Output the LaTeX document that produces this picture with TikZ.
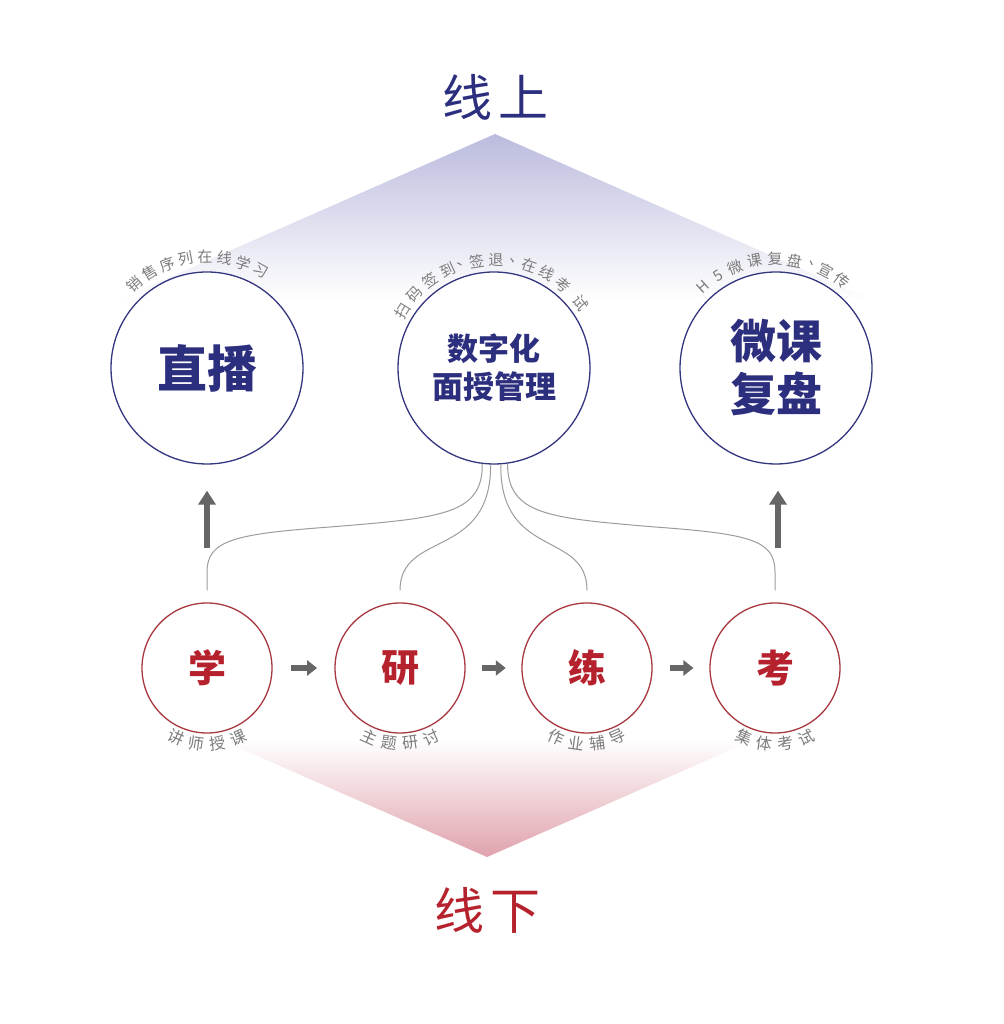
\documentclass[tikz,border=0pt]{standalone}
\usepackage{fontspec}
\newfontfamily\cjk{Noto Sans CJK SC}
\usetikzlibrary{arrows.meta,calc}
\definecolor{navy}{HTML}{2C2E7E}
\definecolor{ringnavy}{HTML}{34367F}
\definecolor{crimson}{HTML}{B5222D}
\definecolor{ringred}{HTML}{A8383F}
\definecolor{lav}{HTML}{BBBBDE}
\definecolor{pinkc}{HTML}{E0A2AC}
\definecolor{labgray}{HTML}{7C7C7C}
\definecolor{arrgray}{HTML}{666666}
\definecolor{linegray}{HTML}{9C9C9C}
\newcommand{\dun}{\smash{\makebox[6pt][l]{、}}}
\begin{document}
\begin{tikzpicture}[x=1pt,y=1pt,
  topring/.style={circle, draw=ringnavy, line width=1.3pt, fill=white, minimum size=192pt, inner sep=0pt, text=navy, align=center},
  botring/.style={circle, draw=ringred, line width=1.3pt, fill=white, minimum size=130pt, inner sep=0pt, text=crimson, font=\cjk\bfseries\fontsize{38}{38}\selectfont},
  arclab/.style={text=labgray, font=\cjk\fontsize{15}{15}\selectfont, inner sep=0pt},
  botlab/.style={text=labgray, font=\cjk\fontsize{16}{16}\selectfont, inner sep=0pt},
  flowarrow/.style={draw=arrgray, line width=6pt, -{Triangle[length=10pt,width=15pt]}},
  uparrow/.style={draw=arrgray, line width=6pt, -{Triangle[length=14pt,width=17pt]}},
  conn/.style={draw=linegray, line width=1pt},
  bigtitle/.style={font=\cjk\fontsize{50}{50}\selectfont}
]
\useasboundingbox (0,0) rectangle (1003,1024);
\fill[white] (0,0) rectangle (1003,1024);

% gradient triangles
\shade[top color=lav, bottom color=white] (495,890) -- (872,724) -- (118,724) -- cycle;
\shade[top color=white, bottom color=pinkc] (487,167) -- (221,284) -- (753,284) -- cycle;

% titles
\node[bigtitle, text=navy] (online) at (495,927) {线\hspace{6pt}上};
\node[bigtitle, text=crimson] (offline) at (487,114) {线\hspace{6pt}下};

% top circles
\node[topring, font=\cjk\bfseries\fontsize{50}{50}\selectfont] (live) at (207,656) {直播};
\node[topring, font=\cjk\bfseries\fontsize{31}{38}\selectfont] (dig) at (494,656) {数字化\\面授管理};
\node[topring, font=\cjk\bfseries\fontsize{46}{53}\selectfont] (micro) at (776,656) {微课\\复盘};

% bottom circles
\node[botring] (xue) at (207,356) {学};
\node[botring] (yan) at (400,356) {研};
\node[botring] (lian) at (587,356) {练};
\node[botring] (kao) at (775,356) {考};

% arc labels above top circles
\foreach \a/\c in {131/销,121/售,111/序,101/列,91/在,81/线,71/学,61/习}
  \path (live.center) ++(\a:111) node[arclab, rotate=\a-90] {\c};
\foreach \a/\c in {148/扫,137/码,126/签,115/到,108/\dun,99/签,89/退,80/\dun,71/在,61/线,50/考,37/试}
  \path (dig.center) ++(\a:108) node[arclab, rotate=\a-90] {\c};
\foreach \a/\c in {132/H,122/5,112/微,101/课,90.5/复,80/盘,71/\dun,63/宣,53/传}
  \path (micro.center) ++(\a:109) node[arclab, rotate=\a-90] {\c};

% labels below bottom circles
\foreach \a/\c in {246/讲,262/师,278/授,294/课}
  \path (xue.center) ++(\a:76) node[botlab, rotate=\a+90] {\c};
\foreach \a/\c in {246/主,262/题,278/研,294/讨}
  \path (yan.center) ++(\a:76) node[botlab, rotate=\a+90] {\c};
\foreach \a/\c in {246/作,262/业,278/辅,294/导}
  \path (lian.center) ++(\a:76) node[botlab, rotate=\a+90] {\c};
\foreach \a/\c in {246/集,262/体,278/考,294/试}
  \path (kao.center) ++(\a:76) node[botlab, rotate=\a+90] {\c};

% flow arrows
\draw[flowarrow] ($(xue.east)!0.3!(yan.west)$) -- ($(xue.east)!0.72!(yan.west)$);
\draw[flowarrow] ($(yan.east)!0.3!(lian.west)$) -- ($(yan.east)!0.72!(lian.west)$);
\draw[flowarrow] ($(lian.east)!0.3!(kao.west)$) -- ($(lian.east)!0.72!(kao.west)$);

% up arrows
\draw[uparrow] ($(live.south)+(0,-83)$) -- ($(live.south)+(0,-26)$);
\draw[uparrow] ($(micro.south)+(2,-83)$) -- ($(micro.south)+(2,-26)$);

% connectors
\coordinate (xin) at ($(xue.north)+(0,12)$);
\coordinate (yin) at ($(yan.north)+(0,12)$);
\coordinate (lin) at ($(lian.north)+(0,12)$);
\coordinate (kin) at ($(kao.north)+(0,12)$);
\draw[conn] (dig.263) .. controls (483,509) and (440,506) .. (330,497)
  .. controls (235,490) and (207,484) .. (207,452) -- (xin);
\draw[conn] (dig.268) .. controls (491,464) and (400,494) .. (yin);
\draw[conn] (dig.274) .. controls (500,464) and (587,494) .. (lin);
\draw[conn] (dig.278) .. controls (508,509) and (548,506) .. (655,497)
  .. controls (750,490) and (775,484) .. (775,452) -- (kin);
\end{tikzpicture}
\end{document}
